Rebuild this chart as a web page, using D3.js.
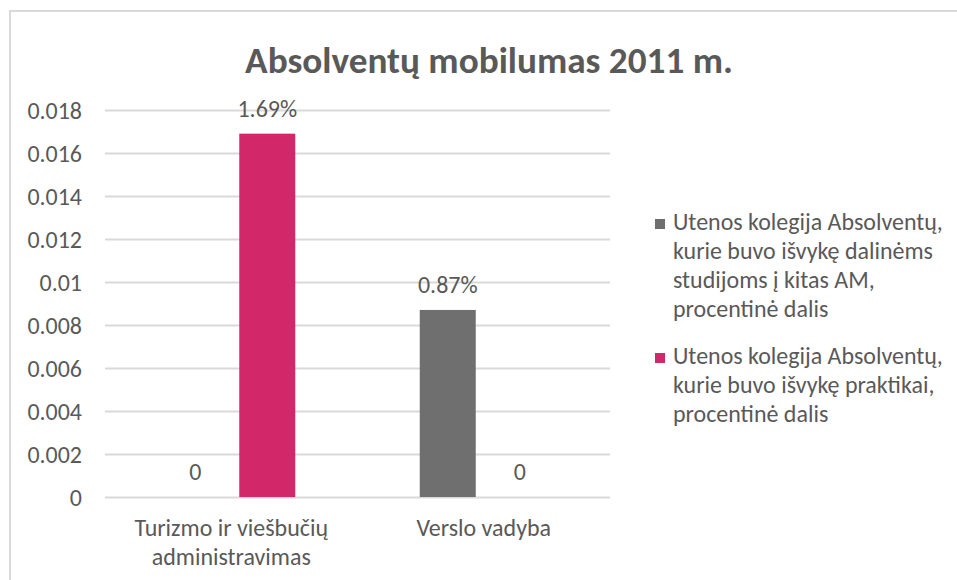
<!DOCTYPE html>
<html>
<head>
<meta charset="utf-8">
<script src="https://cdn.jsdelivr.net/npm/d3@7"></script>
<style>
  html, body { margin: 0; padding: 0; background: #ffffff; }
  svg { display: block; }
</style>
</head>
<body>
<svg id="chart" width="957" height="580"></svg>
<script>
// ---------- data ----------
const title = "Absolventų mobilumas 2011 m.";
const categories = ["Turizmo ir viešbučių administravimas", "Verslo vadyba"];
const categoryLines = [["Turizmo ir viešbučių", "administravimas"], ["Verslo vadyba"]];
const seriesNames = [
  "Utenos kolegija Absolventų, kurie buvo išvykę dalinėms studijoms į kitas AM, procentinė dalis",
  "Utenos kolegija Absolventų, kurie buvo išvykę praktikai, procentinė dalis"
];
const seriesLegendLines = [
  ["Utenos kolegija Absolventų,", "kurie buvo išvykę dalinėms", "studijoms į kitas AM,", "procentinė dalis"],
  ["Utenos kolegija Absolventų,", "kurie buvo išvykę praktikai,", "procentinė dalis"]
];
const seriesStudijos = [0, 0.0087];
const seriesPraktika = [0.0169, 0];
const tickValues = [0, 0.002, 0.004, 0.006, 0.008, 0.01, 0.012, 0.014, 0.016, 0.018];
const tickLabels = ["0", "0.002", "0.004", "0.006", "0.008", "0.01", "0.012", "0.014", "0.016", "0.018"];

// ---------- style / layout ----------
const colors = ["#6f6f6f", "#d2286a"];
const textColor = "#595959";
const gridColor = "#d9d9d9";
const FONT = "Carlito, Calibri, Lato, sans-serif";
const plot = { left: 105, right: 610, top: 110, bottom: 497 };

const svg = d3.select("#chart");
svg.append("rect").attr("x", 0).attr("y", 0).attr("width", 957).attr("height", 580).attr("fill", "#fff");
// chart frame (continues past the picture edge)
svg.append("rect").attr("x", 10).attr("y", 11).attr("width", 1000).attr("height", 700)
  .attr("fill", "none").attr("stroke", gridColor).attr("stroke-width", 2);

// measure helper to fit body font to Calibri widths
function measure(str, size, weight) {
  const t = svg.append("text").attr("font-family", FONT).attr("font-size", size)
    .attr("font-weight", weight || "normal").text(str);
  const w = t.node().getComputedTextLength();
  t.remove();
  return w;
}
const bodySize = 100 * 270 / measure("Utenos kolegija Absolventų,", 100);
const titleSize = 100 * 488 / measure(title, 100, "bold");
const lineH = 29;

// ---------- scales ----------
const x0 = d3.scaleBand().domain(categories).range([plot.left, plot.right]).paddingInner(0).paddingOuter(0);
const x1 = d3.scaleBand().domain(seriesNames).range([-64, 64]).paddingInner(2 / 9).paddingOuter(0);
const y = d3.scaleLinear().domain([0, 0.018]).range([plot.bottom, plot.top]);

// ---------- title ----------
svg.append("text")
  .attr("x", 489).attr("y", 73)
  .attr("text-anchor", "middle")
  .attr("font-family", FONT).attr("font-weight", "bold").attr("font-size", titleSize)
  .attr("fill", textColor)
  .text(title);

// ---------- y axis (gridlines + labels) ----------
const yAxis = d3.axisLeft(y).tickValues(tickValues)
  .tickFormat((d, i) => tickLabels[i])
  .tickSize(-(plot.right - plot.left)).tickPadding(23);
const gy = svg.append("g").attr("transform", `translate(${plot.left},0)`).call(yAxis);
gy.select(".domain").remove();
gy.selectAll(".tick line").attr("stroke", gridColor).attr("stroke-width", 2);
gy.selectAll(".tick text")
  .attr("font-family", FONT).attr("font-size", bodySize).attr("fill", textColor)
  .attr("dy", "0.34em");

// ---------- bars ----------
const seriesData = [seriesStudijos, seriesPraktika];
const rows = [];
seriesData.forEach((vals, s) => vals.forEach((v, c) => rows.push({ s, c, v })));

const gb = svg.append("g");
gb.selectAll("rect").data(rows.filter(r => r.v > 0)).join("rect")
  .attr("x", d => x0(categories[d.c]) + x0.bandwidth() / 2 + x1(seriesNames[d.s]))
  .attr("y", d => y(d.v))
  .attr("width", x1.bandwidth())
  .attr("height", d => y(0) - y(d.v))
  .attr("fill", d => colors[d.s]);

// data labels
const fmt = v => v === 0 ? "0" : d3.format(".2%")(v);
gb.selectAll("text").data(rows).join("text")
  .attr("x", d => x0(categories[d.c]) + x0.bandwidth() / 2 + x1(seriesNames[d.s]) + x1.bandwidth() / 2)
  .attr("y", d => y(d.v) - 17)
  .attr("text-anchor", "middle")
  .attr("font-family", FONT).attr("font-size", bodySize).attr("fill", textColor)
  .text(d => fmt(d.v));

// ---------- category labels ----------
const gx = svg.append("g");
categories.forEach((c, i) => {
  const t = gx.append("text")
    .attr("x", x0(c) + x0.bandwidth() / 2)
    .attr("y", plot.bottom + 39)
    .attr("text-anchor", "middle")
    .attr("font-family", FONT).attr("font-size", bodySize).attr("fill", textColor);
  categoryLines[i].forEach((ln, j) => {
    t.append("tspan").attr("x", x0(c) + x0.bandwidth() / 2).attr("dy", j === 0 ? 0 : lineH).text(ln);
  });
});

// ---------- legend ----------
const legendTop = [230, 364];
const gl = svg.append("g");
seriesNames.forEach((s, i) => {
  gl.append("rect").attr("x", 655).attr("y", legendTop[i] - 11).attr("width", 10).attr("height", 10)
    .attr("fill", colors[i]);
  const t = gl.append("text").attr("x", 673).attr("y", legendTop[i])
    .attr("font-family", FONT).attr("font-size", bodySize).attr("fill", textColor);
  seriesLegendLines[i].forEach((ln, j) => {
    t.append("tspan").attr("x", 673).attr("dy", j === 0 ? 0 : lineH).text(ln);
  });
});
</script>
</body>
</html>
